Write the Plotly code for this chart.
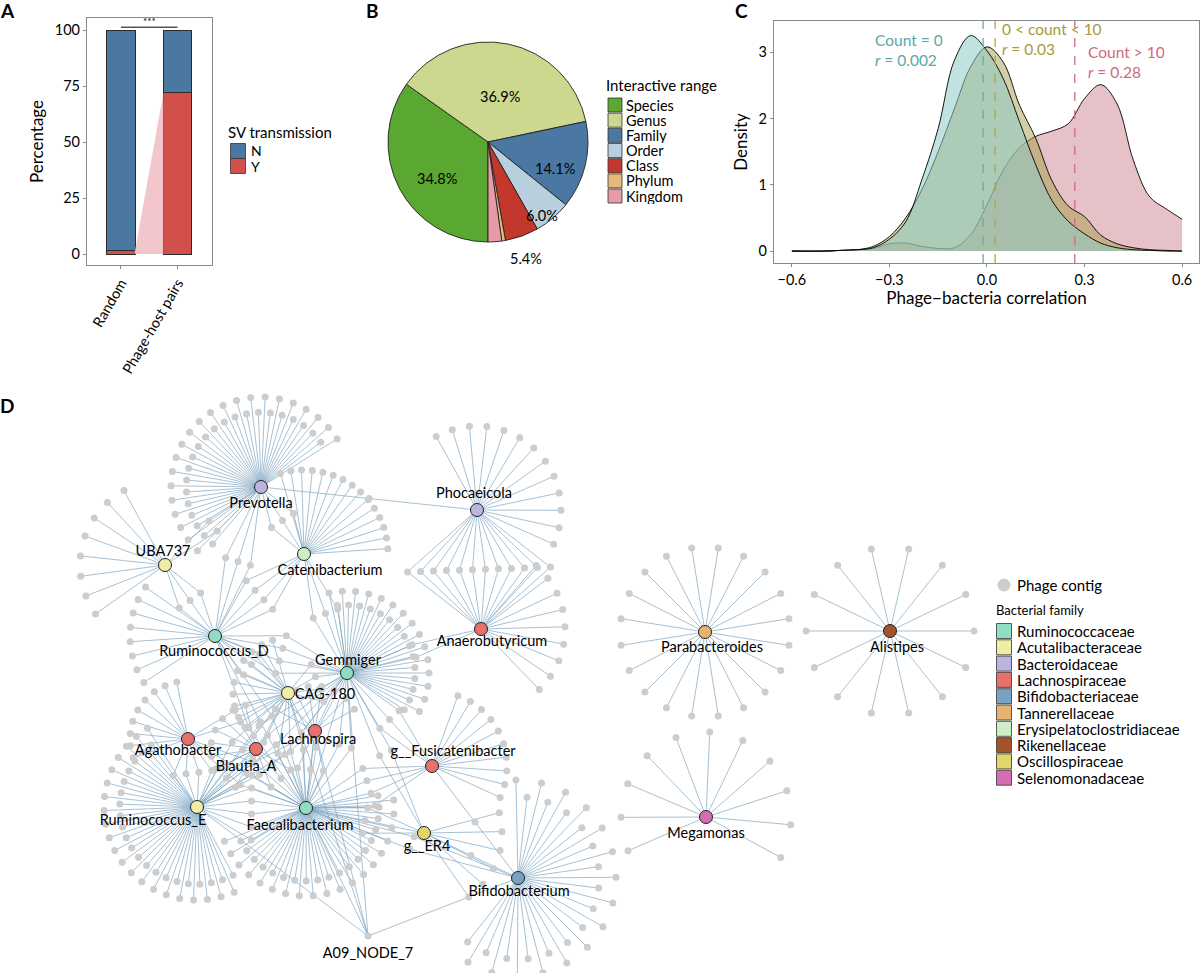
import math
import plotly.graph_objects as go

W, H = 1200, 973
FONT = "Lato"

# ---------------- data ----------------
# A: SV transmission
sv_groups = ["Random", "Phage-host pairs"]
sv_yes = [1.5, 72.0]
sv_no = [98.5, 28.0]

# B: interactive range
range_labels = ["Species", "Genus", "Family", "Order", "Class", "Phylum", "Kingdom"]
range_pct = [34.8, 36.9, 14.1, 6.0, 5.4, 0.6, 2.2]
range_text = ["34.8%", "36.9%", "14.1%", "6.0%", "5.4%", "", ""]

# C: density of phage-bacteria correlation
corr_x = [-0.6, -0.5, -0.45, -0.4, -0.35, -0.3, -0.25, -0.2, -0.15, -0.1, -0.05, 0.0,
          0.05, 0.1, 0.15, 0.2, 0.25, 0.3, 0.35, 0.4, 0.45, 0.5, 0.55, 0.6]
dens_count0 = [0.0, 0.0, 0.01, 0.02, 0.05, 0.18, 0.44, 1.08, 1.85, 2.88, 3.25, 3.02,
               2.6, 1.95, 1.3, 0.76, 0.45, 0.26, 0.12, 0.05, 0.02, 0.01, 0.0, 0.0]
dens_count1_10 = [0.0, 0.0, 0.01, 0.02, 0.07, 0.22, 0.5, 0.93, 1.5, 2.15, 2.78, 3.08,
                  2.85, 2.2, 1.7, 1.06, 0.68, 0.52, 0.24, 0.11, 0.05, 0.02, 0.01, 0.0]
dens_count10 = [0.0, 0.0, 0.01, 0.02, 0.04, 0.11, 0.12, 0.07, 0.04, 0.05, 0.25, 0.7,
                1.22, 1.56, 1.73, 1.81, 1.92, 2.3, 2.51, 2.22, 1.37, 0.82, 0.64, 0.48]
corr_lines = [-0.012, 0.025, 0.27]

# D: phage-host network
hubs = ["Prevotella", "Phocaeicola", "UBA737", "Catenibacterium", "Ruminococcus_D",
        "Gemmiger", "Anaerobutyricum", "CAG-180", "Lachnospira", "Agathobacter",
        "Blautia_A", "g__Fusicatenibacter", "Ruminococcus_E", "Faecalibacterium",
        "g__ER4", "Bifidobacterium", "Parabacteroides", "Alistipes", "Megamonas"]
hub_family = ["Bacteroidaceae", "Bacteroidaceae", "Acutalibacteraceae",
              "Erysipelatoclostridiaceae", "Ruminococcaceae", "Ruminococcaceae",
              "Lachnospiraceae", "Acutalibacteraceae", "Lachnospiraceae", "Lachnospiraceae",
              "Lachnospiraceae", "Lachnospiraceae", "Acutalibacteraceae", "Ruminococcaceae",
              "Oscillospiraceae", "Bifidobacteriaceae", "Tannerellaceae", "Rikenellaceae",
              "Selenomonadaceae"]
hub_contigs = [44, 13, 8, 15, 8, 30, 9, 12, 8, 9, 7, 10, 42, 38, 6, 30, 20, 14, 11]
shared_pairs = [
    ("Prevotella", "Phocaeicola", 1), ("Prevotella", "Catenibacterium", 3),
    ("Prevotella", "Ruminococcus_D", 3), ("Prevotella", "UBA737", 2),
    ("UBA737", "Ruminococcus_D", 3), ("Catenibacterium", "Ruminococcus_D", 4),
    ("Catenibacterium", "Gemmiger", 3), ("Ruminococcus_D", "Gemmiger", 4),
    ("Ruminococcus_D", "CAG-180", 3), ("Ruminococcus_D", "Faecalibacterium", 3),
    ("Phocaeicola", "Anaerobutyricum", 12), ("Gemmiger", "Anaerobutyricum", 2),
    ("Gemmiger", "CAG-180", 4), ("Gemmiger", "Faecalibacterium", 5),
    ("Gemmiger", "Ruminococcus_E", 4), ("Gemmiger", "g__Fusicatenibacter", 3),
    ("Gemmiger", "g__ER4", 2), ("CAG-180", "Faecalibacterium", 4),
    ("CAG-180", "Ruminococcus_E", 3), ("CAG-180", "Agathobacter", 2),
    ("Lachnospira", "Faecalibacterium", 3), ("Lachnospira", "Ruminococcus_E", 2),
    ("Agathobacter", "Ruminococcus_E", 4), ("Agathobacter", "Faecalibacterium", 3),
    ("Blautia_A", "Ruminococcus_E", 3), ("Blautia_A", "Faecalibacterium", 3),
    ("Ruminococcus_E", "Faecalibacterium", 6), ("Faecalibacterium", "g__Fusicatenibacter", 4),
    ("Faecalibacterium", "g__ER4", 3), ("Faecalibacterium", "Bifidobacterium", 2),
    ("g__ER4", "Bifidobacterium", 1), ("g__Fusicatenibacter", "Bifidobacterium", 1),
]
named_contig = "A09_NODE_7"
named_contig_hosts = ["Ruminococcus_E", "Faecalibacterium", "Gemmiger", "CAG-180",
                      "Lachnospira", "Bifidobacterium"]
families = ["Ruminococcaceae", "Acutalibacteraceae", "Bacteroidaceae", "Lachnospiraceae",
            "Bifidobacteriaceae", "Tannerellaceae", "Erysipelatoclostridiaceae",
            "Rikenellaceae", "Oscillospiraceae", "Selenomonadaceae"]

# ---------------- styles / layout ----------------
SV_COLORS = {"N": "#4a78a0", "Y": "#d1504a"}
RANGE_COLORS = ["#5aa832", "#cdd88f", "#4a78a2", "#b8cfdd", "#c4372c", "#e8b878", "#e89aa8"]
FAM_COLORS = {
    "Ruminococcaceae": "#8fdec4", "Acutalibacteraceae": "#f0eea6",
    "Bacteroidaceae": "#bcb4dc", "Lachnospiraceae": "#e8706c",
    "Bifidobacteriaceae": "#78a2c0", "Tannerellaceae": "#e6b26e",
    "Erysipelatoclostridiaceae": "#cdeec7", "Rikenellaceae": "#a3522a",
    "Oscillospiraceae": "#e2d66a", "Selenomonadaceae": "#d56db4",
}
# node layout of the network (pixel space of panel D)
hub_xy = {
    "Prevotella": (261, 487), "Phocaeicola": (477, 510), "UBA737": (165, 565),
    "Catenibacterium": (304, 554), "Ruminococcus_D": (215, 636), "Gemmiger": (347, 673),
    "Anaerobutyricum": (481, 629), "CAG-180": (288, 693), "Lachnospira": (315, 731),
    "Agathobacter": (188, 739), "Blautia_A": (256, 749), "g__Fusicatenibacter": (432, 766),
    "Ruminococcus_E": (197, 807), "Faecalibacterium": (306, 808), "g__ER4": (424, 833),
    "Bifidobacterium": (518, 878), "Parabacteroides": (705, 632), "Alistipes": (890, 631),
    "Megamonas": (706, 817),
}
named_contig_xy = (368, 936)
# fan of private contigs: start angle, end angle (deg, counter-clockwise), radius
hub_fan = {
    "Prevotella": (30, 232, 90), "Phocaeicola": (125, -30, 84), "UBA737": (112, 222, 85),
    "Catenibacterium": (0, 110, 84), "Ruminococcus_D": (140, 218, 85),
    "Gemmiger": (105, -35, 82), "Anaerobutyricum": (55, -52, 84), "CAG-180": (100, 250, 55),
    "Lachnospira": (20, 160, 45), "Agathobacter": (95, 205, 58), "Blautia_A": (95, 215, 45),
    "g__Fusicatenibacter": (75, -30, 75), "Ruminococcus_E": (120, 300, 93),
    "Faecalibacterium": (200, 372, 88), "g__ER4": (22, -62, 78),
    "Bifidobacterium": (95, -132, 98), "Parabacteroides": (90, 450, 85),
    "Alistipes": (90, 450, 84), "Megamonas": (-40, 215, 85),
}
label_xy = {
    "Prevotella": (261, 504), "Phocaeicola": (474, 494), "UBA737": (163, 552),
    "Catenibacterium": (330, 571), "Ruminococcus_D": (214, 652), "Gemmiger": (348, 661),
    "Anaerobutyricum": (492, 642), "CAG-180": (325, 695), "Lachnospira": (318, 740),
    "Agathobacter": (178, 751), "Blautia_A": (246, 767), "g__Fusicatenibacter": (453, 752),
    "Ruminococcus_E": (153, 821), "Faecalibacterium": (300, 826), "g__ER4": (427, 847),
    "Bifidobacterium": (519, 892), "Parabacteroides": (712, 648), "Alistipes": (897, 648),
    "Megamonas": (706, 834), "A09_NODE_7": (368, 954),
}


def px(x):
    return x / W


def py(y):
    return 1 - y / H


fig = go.Figure()

# ---------------- A ----------------
bar_w = 0.5
fig.add_trace(go.Scatter(
    x=[bar_w / 2, bar_w / 2, 1 - bar_w / 2, 1 - bar_w / 2],
    y=[0, sv_yes[0], sv_yes[1], 0], fill="toself", fillcolor="#f2c6ca",
    line=dict(width=0), mode="lines", hoverinfo="skip", showlegend=False,
    xaxis="x", yaxis="y"))
for name, vals in (("Y", sv_yes), ("N", sv_no)):
    fig.add_trace(go.Bar(
        x=[0, 1], y=vals, width=bar_w, name=name, showlegend=False,
        marker=dict(color=SV_COLORS[name], line=dict(color="#2b2b2b", width=1)),
        xaxis="x", yaxis="y"))
fig.add_shape(type="line", xref="x", yref="y", x0=0, x1=1, y0=101.3, y1=101.3,
              line=dict(color="black", width=1))
fig.add_annotation(x=0.5, y=100.6, xref="x", yref="y", text="***", showarrow=False,
                   yanchor="bottom", font=dict(size=10))

# ---------------- B ----------------
fig.add_trace(go.Pie(
    labels=range_labels, values=range_pct, sort=False, direction="clockwise",
    rotation=180, textinfo="none", hoverinfo="label+percent", showlegend=False,
    marker=dict(colors=RANGE_COLORS, line=dict(color="#222", width=0.9)),
    domain=dict(x=[px(388), px(588)], y=[py(242), py(42)])))
pie_cx, pie_cy, pie_r = 488, 142, 100
label_frac = [0.57, 0.57, 0.69, 0.83, 1.13, 0, 0]
cum = 0.0
for v, txt, f in zip(range_pct, range_text, label_frac):
    theta = math.radians(180 + 360 * (cum + v / 2) / sum(range_pct))
    cum += v
    if not txt:
        continue
    fig.add_annotation(x=px(pie_cx + f * pie_r * math.sin(theta)),
                       y=py(pie_cy - f * pie_r * math.cos(theta)),
                       xref="paper", yref="paper", text=txt, showarrow=False,
                       font=dict(size=14.5))

# ---------------- C ----------------
for ys, fillc in ((dens_count10, "rgba(205,131,145,0.5)"),
                  (dens_count1_10, "rgba(168,158,75,0.5)"),
                  (dens_count0, "rgba(140,202,198,0.55)")):
    fig.add_trace(go.Scatter(
        x=corr_x, y=ys, mode="lines", line=dict(color="black", width=0.9, shape="spline"),
        fill="tozeroy", fillcolor=fillc, showlegend=False, xaxis="x3", yaxis="y3"))
for xv, col in zip(corr_lines, ["#6aa9aa", "#b2a44c", "#cf6b82"]):
    fig.add_shape(type="line", xref="x3", yref="y3 domain", x0=xv, x1=xv, y0=0, y1=1,
                  line=dict(color=col, width=1.3, dash="dash"))
c_notes = [("Count = 0", "<i>r</i> = 0.002", 873, 40, "#5aa8a6"),
           ("0 < count < 10", "<i>r</i> = 0.03", 1000, 29, "#a89a3a"),
           ("Count > 10", "<i>r</i> = 0.28", 1086, 52, "#cc6a80")]
for t1, t2, x0, y0, col in c_notes:
    for k, t in enumerate((t1, t2)):
        fig.add_annotation(x=px(x0), y=py(y0 + 20 * k), xref="paper", yref="paper",
                           text=t, showarrow=False, xanchor="left", yanchor="middle",
                           height=18, font=dict(size=15.5, color=col))

# ---------------- D ----------------
edge_x, edge_y, leaf_x, leaf_y = [], [], [], []


def link(a, b):
    edge_x.extend([a[0], b[0], None])
    edge_y.extend([a[1], b[1], None])


for name, n in zip(hubs, hub_contigs):
    hx, hy = hub_xy[name]
    a0, a1, r = hub_fan[name]
    for i in range(n):
        ang = math.radians(a0 + (a1 - a0) * (i + 0.5) / n)
        rr = r * 0.83 if (n >= 28 and i % 2) else r
        leaf = (hx + rr * math.cos(ang), hy - rr * math.sin(ang))
        link((hx, hy), leaf)
        leaf_x.append(leaf[0])
        leaf_y.append(leaf[1])

for a, b, k in shared_pairs:
    (ax_, ay_), (bx_, by_) = hub_xy[a], hub_xy[b]
    d = math.hypot(bx_ - ax_, by_ - ay_)
    ux, uy = -(by_ - ay_) / d, (bx_ - ax_) / d
    for j in range(k):
        off = (j - (k - 1) / 2) * 13
        leaf = ((ax_ + bx_) / 2 + ux * off, (ay_ + by_) / 2 + uy * off)
        link(hub_xy[a], leaf)
        link(hub_xy[b], leaf)
        leaf_x.append(leaf[0])
        leaf_y.append(leaf[1])

for h in named_contig_hosts:
    link(hub_xy[h], named_contig_xy)
leaf_x.append(named_contig_xy[0])
leaf_y.append(named_contig_xy[1])

fig.add_trace(go.Scatter(x=edge_x, y=edge_y, mode="lines", hoverinfo="skip",
                         line=dict(color="rgba(122,162,192,0.75)", width=0.9),
                         showlegend=False, xaxis="x4", yaxis="y4"))
fig.add_trace(go.Scatter(x=leaf_x, y=leaf_y, mode="markers", name="Phage contig",
                         marker=dict(size=7, color="#cdcdcd"), showlegend=False,
                         xaxis="x4", yaxis="y4"))
for fam in families:
    idx = [i for i, f in enumerate(hub_family) if f == fam]
    fig.add_trace(go.Scatter(
        x=[hub_xy[hubs[i]][0] for i in idx], y=[hub_xy[hubs[i]][1] for i in idx],
        mode="markers", name=fam, text=[hubs[i] for i in idx], hoverinfo="text",
        marker=dict(size=13, color=FAM_COLORS[fam], line=dict(color="#222", width=1)),
        showlegend=False, xaxis="x4", yaxis="y4"))
lab_names = hubs + [named_contig]
fig.add_trace(go.Scatter(
    x=[label_xy[n][0] for n in lab_names], y=[label_xy[n][1] for n in lab_names],
    mode="text", text=lab_names, textfont=dict(size=14.5, color="black"),
    hoverinfo="skip", showlegend=False, xaxis="x4", yaxis="y4"))


# ---------------- keys (legends) ----------------
def key_text(x, y, text, size=14, h=None):
    fig.add_annotation(x=px(x), y=py(y), xref="paper", yref="paper", text=text,
                       showarrow=False, xanchor="left", yanchor="middle",
                       height=h, font=dict(size=size))


def key_box(x, y, color, s=14):
    fig.add_shape(type="rect", xref="paper", yref="paper",
                  x0=px(x - s / 2), x1=px(x + s / 2), y0=py(y + s / 2), y1=py(y - s / 2),
                  fillcolor=color, line=dict(color="#333", width=0.8))


key_text(226, 132, "SV transmission", 15)
for i, name in enumerate(["N", "Y"]):
    key_box(238, 151 + 15 * i, SV_COLORS[name], 15)
    key_text(249, 151 + 15 * i, name, 14, 15)

key_text(604, 85, "Interactive range", 15)
for i, (lab, col) in enumerate(zip(range_labels, RANGE_COLORS)):
    key_box(615, 105 + 15.17 * i, col)
    key_text(624, 105 + 15.17 * i, lab, 14.5, 15)

fig.add_shape(type="circle", xref="paper", yref="paper", x0=px(997.5), x1=px(1010.5),
              y0=py(591.5), y1=py(578.5), fillcolor="#cdcdcd", line=dict(width=0))
key_text(1015, 585, "Phage contig", 15)
key_text(994, 610, "Bacterial family", 13)
for i, fam in enumerate(families):
    key_box(1004, 631 + 16.3 * i, FAM_COLORS[fam], 15)
    key_text(1015, 631 + 16.3 * i, fam, 15, 16)

# panel letters
for letter, x, y in (("A", 7, 10), ("B", 372, 10), ("C", 741, 10), ("D", 7, 405)):
    fig.add_annotation(x=px(x), y=py(y), xref="paper", yref="paper", text=f"<b>{letter}</b>",
                       showarrow=False, font=dict(size=19), xanchor="center", yanchor="middle")

box = dict(showline=True, mirror=True, linecolor="#8a8a8a", linewidth=1.2, showgrid=False,
           zeroline=False, ticks="outside", ticklen=3, tickcolor="#8a8a8a",
           tickfont=dict(size=14.5))
fig.update_layout(
    width=W, height=H, margin=dict(l=0, r=0, t=0, b=0), barmode="stack",
    paper_bgcolor="white", plot_bgcolor="white", showlegend=False,
    font=dict(family=FONT, color="black"),
    xaxis=dict(domain=[px(87), px(212)], range=[-0.6, 1.61], tickvals=[0, 1],
               ticktext=sv_groups, tickangle=-60, **box),
    yaxis=dict(domain=[py(265), py(18)], range=[-4.9, 105.4],
               tickvals=[0, 25, 50, 75, 100],
               title=dict(text="Percentage", font=dict(size=17), standoff=6), **box),
    xaxis3=dict(domain=[px(774), px(1199)], range=[-0.655, 0.652],
                tickvals=[-0.6, -0.3, 0, 0.3, 0.6], ticklabeloverflow="allow",
                ticktext=["\u22120.6", "\u22120.3", "0.0", "0.3", "0.6"], anchor="y3",
                title=dict(text="Phage\u2212bacteria correlation", font=dict(size=17),
                           standoff=4), **box),
    yaxis3=dict(domain=[py(263), py(21)], range=[-0.18, 3.47], tickvals=[0, 1, 2, 3],
                anchor="x3", title=dict(text="Density", font=dict(size=17), standoff=6),
                **box),
    xaxis4=dict(domain=[0, 1], range=[0, W], visible=False, anchor="y4"),
    yaxis4=dict(domain=[0, py(380)], range=[H, 380], visible=False, anchor="x4"),
)

# the page is photographed from its top-left corner: drop the default body margin
fig.write_html("out.html", config={"displayModeBar": False},
               post_script="document.body.style.margin='0';")
